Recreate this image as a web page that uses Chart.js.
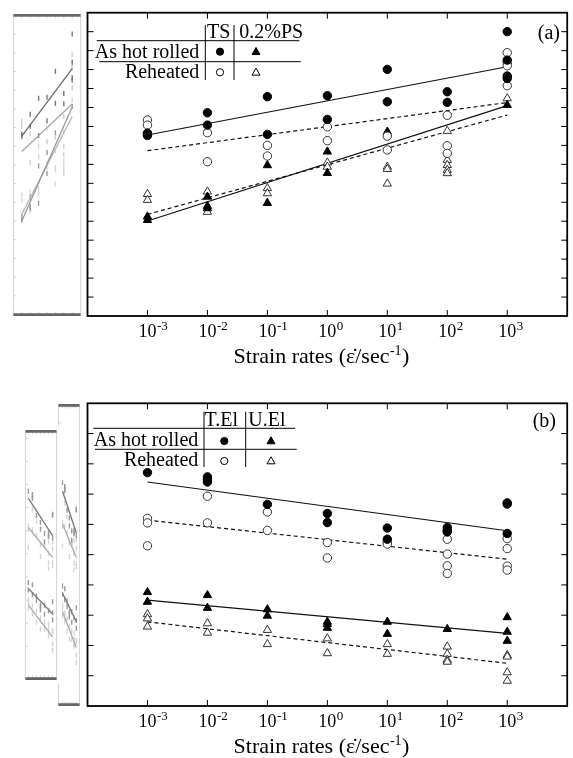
<!DOCTYPE html>
<html>
<head>
<meta charset="utf-8">
<script src="https://cdn.jsdelivr.net/npm/chart.js@4.4.1/dist/chart.umd.min.js"></script>
<style>
  body { margin: 0; width: 573px; height: 758px; background: #fff; position: relative; overflow: hidden; }
  canvas { position: absolute; }
</style>
</head>
<body>
<canvas id="remA" width="78" height="310" style="left:8px;top:10px;z-index:1"></canvas>
<canvas id="remB2" width="32" height="310" style="left:53px;top:400px;z-index:1"></canvas>
<canvas id="remB1" width="42" height="258" style="left:20px;top:426px;z-index:2"></canvas>
<canvas id="chartA" width="573" height="380" style="left:0;top:0;z-index:3"></canvas>
<canvas id="chartB" width="573" height="378" style="left:0;top:380px;z-index:3"></canvas>
<script>
// strain rate exponents (10^x)
const rates = [-3, -2, -1, 0, 1, 2, 3];
const rateExps = ['-3', '-2', '-1', '0', '1', '2', '3'];
const fitRates = [-3, 3];

// (a) strength, one list of readings per strain rate
const tsHot = [[9.63, 9.52], [10.72, 10.07], [11.57, 9.58], [11.62, 10.37], [13.01, 11.30], [11.83, 11.27], [15.0, 13.5, 12.66, 12.53]];
const tsReh = [[10.34, 10.07, 9.65], [9.67, 8.14], [9.0, 8.44], [9.98, 9.25], [9.49, 8.76], [10.59, 8.98, 8.58], [13.89, 13.36, 13.2, 12.15]];
const psHot = [[5.24, 5.06], [6.29, 5.80, 5.68], [7.95, 5.96], [8.67, 7.54], [9.72], [], [11.13]];
const psReh = [[6.43, 6.12], [6.56, 5.49], [6.74, 6.47], [8.09, 7.87], [7.87, 7.75, 6.98], [9.76, 8.23, 7.96, 7.70, 7.53], [11.48]];
const tsHotFit = [9.55, 13.15];
const tsRehFit = [8.72, 11.26];
const psHotFit = [5.01, 11.10];
const psRehFit = [5.36, 10.6];

// (b) elongation
const telHot = [[7.71], [7.57, 7.48, 7.40], [6.66], [6.36, 6.06], [5.88, 5.51], [5.90, 5.81, 5.75], [6.71, 6.67, 5.70]];
const telReh = [[6.20, 6.05, 5.29], [6.93, 6.05], [6.41, 5.80], [5.40, 4.89], [5.42, 5.35], [5.51, 5.02, 4.63, 4.38], [5.53, 5.20, 4.62, 4.49]];
const uelHot = [[3.76, 3.44], [3.66, 3.24], [3.19, 2.98], [2.78, 2.70, 2.58], [2.78, 2.38], [2.54], [2.93, 2.45, 2.15]];
const uelReh = [[3.03, 2.89, 2.62], [2.73, 2.42], [2.51, 2.04], [2.23, 1.74], [2.04, 1.72], [1.96, 1.72, 1.52, 1.46], [1.68, 1.63, 1.11, 0.83]];
const telHotFit = [7.40, 5.79];
const telRehFit = [6.14, 4.85];
const uelHotFit = [3.50, 2.40];
const uelRehFit = [2.78, 1.41];

const SERIF = '"Liberation Serif", "DejaVu Serif", serif';

function toPoints(cols) {
  const pts = [];
  cols.forEach((vals, i) => vals.forEach(v => pts.push({ x: rates[i], y: v })));
  return pts;
}
function fitPoints(vals) {
  return fitRates.map((x, i) => ({ x: x, y: vals[i] }));
}

function markSet(cols, shape, filled) {
  return {
    data: toPoints(cols),
    pointStyle: shape,
    pointRadius: shape === 'triangle' ? 4.8 : 4.2,
    pointBackgroundColor: filled ? '#000' : '#fff',
    pointBorderColor: filled ? '#000' : '#333',
    pointBorderWidth: 1,
    showLine: false,
    order: 1
  };
}
function fitSet(vals, dashed) {
  return {
    data: fitPoints(vals),
    showLine: true,
    pointRadius: 0,
    borderColor: '#111',
    borderWidth: 1.2,
    borderDash: dashed ? [4, 3] : [],
    order: 5
  };
}
// faded copies for the squeezed panels at the left edge
function ghostMarks(cols, color) {
  return { data: toPoints(cols), pointStyle: 'line', rotation: 90, pointRadius: 2.5,
           pointBorderColor: color, pointBorderWidth: 1.4, showLine: false };
}
function ghostFit(vals, color) {
  return { data: fitPoints(vals), showLine: true, pointRadius: 0, borderColor: color, borderWidth: 1.3 };
}

function drawMarker(ctx, shape, filled, x, y) {
  ctx.beginPath();
  if (shape === 'circle') {
    ctx.arc(x, y, 3.6, 0, Math.PI * 2);
  } else {
    ctx.moveTo(x, y - 4.2);
    ctx.lineTo(x + 4, y + 2.8);
    ctx.lineTo(x - 4, y + 2.8);
    ctx.closePath();
  }
  ctx.fillStyle = filled ? '#000' : '#fff';
  ctx.fill();
  ctx.lineWidth = 1;
  ctx.strokeStyle = '#000';
  ctx.stroke();
}

function drawLegend(ctx, L) {
  ctx.strokeStyle = '#000';
  ctx.lineWidth = 1;
  ctx.beginPath();
  L.hlines.forEach(h => { ctx.moveTo(h[0], h[1]); ctx.lineTo(h[2], h[1]); });
  L.seps.forEach(s => { ctx.moveTo(s, L.sepTop); ctx.lineTo(s, L.sepBot); });
  ctx.stroke();
  ctx.fillStyle = '#000';
  ctx.font = '20px ' + SERIF;
  ctx.textAlign = 'left';
  L.heads.forEach((t, i) => ctx.fillText(t, L.headX[i], L.headBase));
  ctx.textAlign = 'right';
  ctx.fillText('As hot rolled', L.textRight, L.rowBase[0]);
  ctx.fillText('Reheated', L.textRight, L.rowBase[1]);
  drawMarker(ctx, 'circle', true, L.markX[0], L.markY[0]);
  drawMarker(ctx, 'triangle', true, L.markX[1], L.markY[0]);
  drawMarker(ctx, 'circle', false, L.markX[0], L.markY[1]);
  drawMarker(ctx, 'triangle', false, L.markX[1], L.markY[1]);
}

function axesPlugin(opt) {
  return {
    id: 'axesFrame',
    afterDraw(chart) {
      const ctx = chart.ctx, a = chart.chartArea;
      const xs = chart.scales.x, ys = chart.scales.y;
      ctx.save();
      ctx.strokeStyle = '#000';
      ctx.lineWidth = 1;
      ctx.beginPath();
      rates.forEach(r => {
        const px = xs.getPixelForValue(r);
        ctx.moveTo(px, a.top); ctx.lineTo(px, a.top + 6);
        ctx.moveTo(px, a.bottom); ctx.lineTo(px, a.bottom - 6);
      });
      for (let v = ys.min + 1; v < ys.max; v++) {
        const py = ys.getPixelForValue(v);
        ctx.moveTo(a.left, py); ctx.lineTo(a.left + 6, py);
        ctx.moveTo(a.right, py); ctx.lineTo(a.right - 6, py);
      }
      ctx.stroke();
      ctx.lineWidth = 1.8;
      ctx.strokeRect(a.left, a.top, a.right - a.left, a.bottom - a.top);

      // tick labels 10^n
      ctx.fillStyle = '#000';
      ctx.textAlign = 'left';
      rates.forEach((r, i) => {
        const px = xs.getPixelForValue(r);
        ctx.font = '18px ' + SERIF;
        ctx.fillText('10', px - 9, a.bottom + 21);
        ctx.font = '13px ' + SERIF;
        ctx.fillText(rateExps[i], px + 9.5, a.bottom + 14);
      });

      // axis title
      const t1 = 'Strain rates (\u03b5\u0307/sec', t2 = '-1', t3 = ')';
      ctx.font = '22px ' + SERIF;
      const w1 = ctx.measureText(t1).width, w3 = ctx.measureText(t3).width;
      ctx.font = '14px ' + SERIF;
      const w2 = ctx.measureText(t2).width;
      let sx = 321 - (w1 + w2 + w3) / 2;
      const base = a.bottom + 46.5;
      ctx.font = '22px ' + SERIF;
      ctx.fillText(t1, sx, base);
      ctx.font = '14px ' + SERIF;
      ctx.fillText(t2, sx + w1 + 0.5, base - 8);
      ctx.font = '22px ' + SERIF;
      ctx.fillText(t3, sx + w1 + w2 + 1, base);

      drawLegend(ctx, opt.legend);
      ctx.font = '20px ' + SERIF;
      ctx.textAlign = 'right';
      ctx.fillStyle = '#000';
      ctx.fillText(opt.label, opt.labelX, opt.labelY);
      ctx.restore();
    }
  };
}

function ghostFrame(whiteBg) {
  return {
    id: 'ghostFrame',
    beforeDraw(chart) {
      if (!whiteBg) return;
      const ctx = chart.ctx;
      ctx.save();
      ctx.fillStyle = '#fff';
      ctx.fillRect(0, 0, chart.width, chart.height);
      ctx.restore();
    },
    afterDraw(chart) {
      const ctx = chart.ctx, a = chart.chartArea;
      const xs = chart.scales.x, ys = chart.scales.y;
      ctx.save();
      ctx.strokeStyle = '#d4d4d4';
      ctx.lineWidth = 1;
      ctx.beginPath();
      ctx.moveTo(a.left, a.top); ctx.lineTo(a.left, a.bottom);
      ctx.moveTo(a.right, a.top); ctx.lineTo(a.right, a.bottom);
      rates.forEach(r => {
        const px = xs.getPixelForValue(r);
        ctx.moveTo(px, a.top); ctx.lineTo(px, a.top + 3);
        ctx.moveTo(px, a.bottom); ctx.lineTo(px, a.bottom - 3);
      });
      for (let v = Math.ceil(ys.min) + 1; v < ys.max; v++) {
        const py = ys.getPixelForValue(v);
        ctx.moveTo(a.left, py); ctx.lineTo(a.left + 3, py);
      }
      ctx.stroke();
      ctx.strokeStyle = '#666';
      ctx.lineWidth = 2.6;
      ctx.beginPath();
      ctx.moveTo(a.left, a.top); ctx.lineTo(a.right, a.top);
      ctx.moveTo(a.left, a.bottom); ctx.lineTo(a.right, a.bottom);
      ctx.stroke();
      ctx.restore();
    }
  };
}

function makeChart(id, datasets, xr, yr, padding, plugin) {
  return new Chart(document.getElementById(id), {
    type: 'scatter',
    data: { datasets: datasets },
    options: {
      responsive: false,
      animation: false,
      layout: { padding: padding },
      plugins: { legend: { display: false }, tooltip: { enabled: false } },
      scales: {
        x: { type: 'linear', min: xr[0], max: xr[1], display: false },
        y: { type: 'linear', min: yr[0], max: yr[1], display: false }
      }
    },
    plugins: [plugin]
  });
}

// main panel (a)
makeChart('chartA', [
  fitSet(tsHotFit, false), fitSet(tsRehFit, true), fitSet(psHotFit, false), fitSet(psRehFit, true),
  markSet(tsHot, 'circle', true), markSet(tsReh, 'circle', false),
  markSet(psHot, 'triangle', true), markSet(psReh, 'triangle', false)
], [-4, 4], [0, 16], { left: 87.5, top: 12.7, right: 2.5, bottom: 64 }, axesPlugin({
  label: '(a)', labelX: 560, labelY: 39,
  legend: {
    heads: ['TS', '0.2%PS'], headX: [207, 239.3], headBase: 38.3,
    hlines: [[96.7, 40.7, 299.3], [99.3, 61.7, 300.7]],
    seps: [205.3, 234], sepTop: 25, sepBot: 80,
    textRight: 199.3, rowBase: [58.3, 78.3],
    markX: [220, 256], markY: [51.7, 72.3]
  }
}));

// main panel (b)
makeChart('chartB', [
  fitSet(telHotFit, false), fitSet(telRehFit, true), fitSet(uelHotFit, false), fitSet(uelRehFit, true),
  markSet(telHot, 'circle', true), markSet(telReh, 'circle', false),
  markSet(uelHot, 'triangle', true), markSet(uelReh, 'triangle', false)
], [-4, 4], [0, 10], { left: 87.5, top: 23.3, right: 2.5, bottom: 52 }, axesPlugin({
  label: '(b)', labelX: 556, labelY: 47,
  legend: {
    heads: ['T.El', 'U.El'], headX: [204.5, 248.3], headBase: 46,
    hlines: [[93.3, 48.3, 295], [95, 69.3, 296.7]],
    seps: [204, 245.7], sepTop: 31.7, sepBot: 87,
    textRight: 198.3, rowBase: [66, 86],
    markX: [224.3, 271], markY: [61, 81]
  }
}));

// squeezed copies at the left edge
makeChart('remA', [
  ghostFit(tsHotFit, '#6a6a6a'), ghostFit(tsRehFit, '#a8a8a8'), ghostFit(psHotFit, '#999'), ghostFit(psRehFit, '#b8b8b8'),
  ghostMarks(tsHot, '#777'), ghostMarks(tsReh, '#d0d0d0'), ghostMarks(psHot, '#999'), ghostMarks(psReh, '#d8d8d8')
], [-4, 4], [0, 16], { left: 1.3, top: 2.7, right: 2.7, bottom: 4 }, ghostFrame(false));

const ghostB = () => [
  ghostFit(telHotFit, '#777'), ghostFit(telRehFit, '#aaa'), ghostFit(uelHotFit, '#777'), ghostFit(uelRehFit, '#aaa'),
  ghostMarks(telHot, '#999'), ghostMarks(telReh, '#d4d4d4'), ghostMarks(uelHot, '#999'), ghostMarks(uelReh, '#d4d4d4')
];
makeChart('remB2', ghostB(), [-4.77, 4.41], [-0.77, 10.67], { left: 2, top: 3.3, right: 2, bottom: 4 }, ghostFrame(false));
makeChart('remB1', ghostB(), [-3.74, 4.0], [-0.4, 10.3], { left: 2, top: 2.3, right: 2, bottom: 4 }, ghostFrame(true));
</script>
</body>
</html>
